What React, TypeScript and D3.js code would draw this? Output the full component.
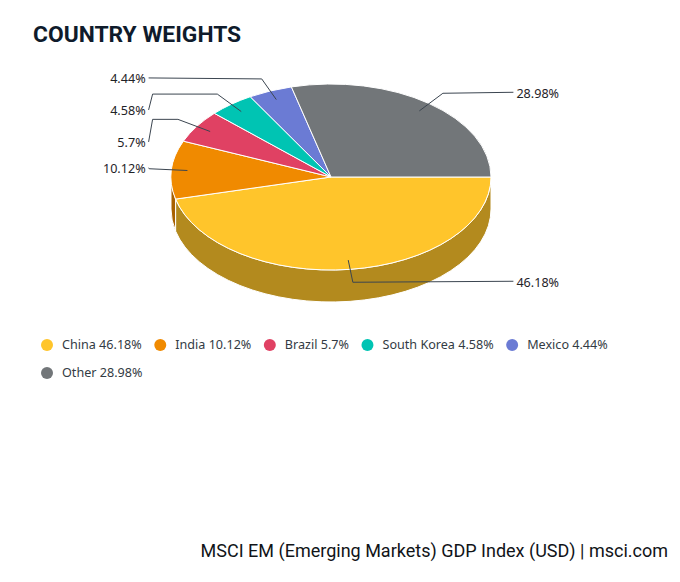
import * as React from "react";
import * as d3 from "d3";
import { useEffect, useRef } from "react";

const countries = ["China", "India", "Brazil", "South Korea", "Mexico", "Other"];
const weights = [46.18, 10.12, 5.7, 4.58, 4.44, 28.98];
const colors = ["#ffc52b", "#f08a00", "#e04163", "#00c4b3", "#6b7bd4", "#727679"];

const title = "COUNTRY WEIGHTS";
const source = "MSCI EM (Emerging Markets) GDP Index (USD) | msci.com";

const App: React.FunctionComponent = () => {
  const svgRef = useRef<SVGSVGElement>(null);

  useEffect(() => {
    const w = 680;
    const h = 582;
    const cx = 331;
    const cy = 177;
    const rx = 160;
    const ry = 93;
    const depth = 32;
    const labelK = 1.14;
    const labelFont = "'Noto Sans', 'Open Sans', sans-serif";

    const svg = d3.select(svgRef.current).attr("width", w).attr("height", h);
    svg.selectAll("*").remove();

    // d3 angles start at 12 o'clock; shift so the first slice starts at 3 o'clock
    const arcs = d3
      .pie<number>()
      .sort(null)
      .startAngle(Math.PI / 2)
      .endAngle(Math.PI / 2 + 2 * Math.PI)(weights);

    const pt = (t: number, s = 1, dz = 0): [number, number] => [
      cx + s * rx * Math.cos(t),
      cy + s * ry * Math.sin(t) + dz,
    ];

    const slices = arcs.map((a, i) => ({
      t0: a.startAngle - Math.PI / 2,
      t1: a.endAngle - Math.PI / 2,
      value: a.data,
      name: countries[i],
      color: colors[i],
    }));

    // outer side walls (only the front half is visible)
    const sides = svg.append("g");
    slices.forEach((s) => {
      const a = Math.max(s.t0, 0);
      const b = Math.min(s.t1, Math.PI);
      if (b <= a) return;
      const p0 = pt(a);
      const p1 = pt(b);
      const q1 = pt(b, 1, depth);
      const q0 = pt(a, 1, depth);
      const path = `M${p0[0]},${p0[1]} A${rx},${ry} 0 0 1 ${p1[0]},${p1[1]} L${q1[0]},${q1[1]} A${rx},${ry} 0 0 0 ${q0[0]},${q0[1]} Z`;
      sides
        .append("path")
        .attr("d", path)
        .attr("fill", d3.color(s.color)!.darker(1).toString())
        .attr("stroke", "#ffffff")
        .attr("stroke-width", 1)
        .attr("stroke-linejoin", "round");
    });

    // top faces
    const tops = svg.append("g");
    slices.forEach((s) => {
      const p0 = pt(s.t0);
      const p1 = pt(s.t1);
      const large = s.t1 - s.t0 > Math.PI ? 1 : 0;
      tops
        .append("path")
        .attr("d", `M${cx},${cy} L${p0[0]},${p0[1]} A${rx},${ry} 0 ${large} 1 ${p1[0]},${p1[1]} Z`)
        .attr("fill", s.color)
        .attr("stroke", "#ffffff")
        .attr("stroke-width", 1)
        .attr("stroke-linejoin", "round");
    });

    // data labels with crooked connectors
    const labels = slices.map((s) => {
      const m = (s.t0 + s.t1) / 2;
      const left = Math.cos(m) < 0;
      const ny = cy + labelK * ry * Math.sin(m);
      return { ...s, m, left, ny, y: ny };
    });
    [true, false].forEach((side) => {
      const group = labels.filter((l) => l.left === side).sort((a, b) => a.ny - b.ny);
      group.forEach((l, i) => {
        // only move a label when it actually collides with the one above
        if (i > 0 && l.ny - group[i - 1].y < 25) l.y = group[i - 1].y + 32;
      });
    });

    const lg = svg.append("g");
    labels.forEach((l) => {
      const lx = l.left ? cx - labelK * rx : cx + labelK * rx;
      const bx = cx + labelK * rx * Math.cos(l.m);
      const [tx, ty] = pt(l.m, 0.9);
      const pts: [number, number][] = [[lx, l.y - 1]];
      if (Math.abs(l.y - l.ny) > 1) pts.push([lx + (l.left ? 4 : -4), l.ny]);
      pts.push([bx, l.ny], [tx, ty]);
      lg.append("path")
        .attr("d", d3.line()(pts))
        .attr("fill", "none")
        .attr("stroke", "#3b4550")
        .attr("stroke-width", 1);
      lg.append("text")
        .attr("x", l.left ? lx - 3 : lx + 3)
        .attr("y", l.y)
        .attr("dy", "0.35em")
        .attr("text-anchor", l.left ? "end" : "start")
        .style("font-family", labelFont)
        .style("font-size", "12.6px")
        .attr("fill", "#1f2328")
        .text(`${l.value}%`);
    });

    // legend
    const legend = svg.append("g");
    let x = 47;
    let y = 345;
    slices.forEach((s) => {
      const item = legend.append("g");
      const label = item
        .append("text")
        .attr("x", 15)
        .attr("y", 0)
        .attr("dy", "0.35em")
        .style("font-family", labelFont)
        .style("font-size", "12.6px")
        .attr("fill", "#333b44")
        .text(`${s.name} ${s.value}%`);
      item.append("circle").attr("cx", 0).attr("cy", 0).attr("r", 6).attr("fill", s.color);
      const tw = (label.node() as SVGTextElement).getComputedTextLength();
      if (x + 15 + tw > 640) {
        x = 47;
        y += 28;
      }
      item.attr("transform", `translate(${x},${y})`);
      x += 15 + tw + 18.5;
    });

    svg
      .append("text")
      .attr("x", 33)
      .attr("y", 42)
      .style("font-family", "Roboto, sans-serif")
      .style("font-weight", "700")
      .style("font-size", "22.8px")
      .attr("fill", "#0f1b2b")
      .text(title);

    svg
      .append("text")
      .attr("x", 668)
      .attr("y", 557)
      .attr("text-anchor", "end")
      .style("font-family", "Roboto, sans-serif")
      .style("font-size", "18px")
      .attr("fill", "#111418")
      .text(source);
  }, []);

  return <svg ref={svgRef} style={{ position: "absolute", left: 0, top: 0, background: "#ffffff" }}></svg>;
};

export default App;
